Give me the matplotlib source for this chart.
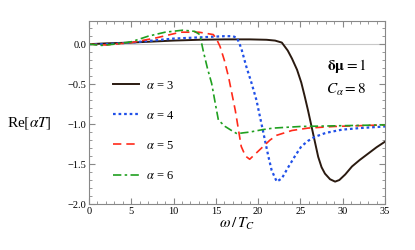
import matplotlib
matplotlib.use("Agg")
import matplotlib.pyplot as plt
from matplotlib.ticker import MultipleLocator
import numpy as np

plt.rcParams['font.family'] = ['Liberation Serif', 'DejaVu Serif']
plt.rcParams['mathtext.fontset'] = 'stix'

# alpha = 3
x3 = [0, 2, 5, 8, 10, 13, 16, 19, 21, 22, 22.8, 23.5, 24, 24.6, 25.1, 25.5, 25.9, 26.5, 27.1, 27.5, 27.9, 28.5, 29.1, 29.6, 30.3, 31.1, 32, 33, 34, 35]
y3 = [0.0, 0.01, 0.02, 0.035, 0.045, 0.055, 0.06, 0.06, 0.055, 0.045, 0.02, -0.08, -0.18, -0.32, -0.48, -0.65, -0.83, -1.12, -1.41, -1.54, -1.62, -1.69, -1.72, -1.70, -1.63, -1.53, -1.45, -1.37, -1.29, -1.22]
# alpha = 4
x4 = [0, 2, 5, 8, 10, 12, 14, 16, 17, 17.5, 18, 18.6, 19.2, 19.8, 20.3, 20.8, 21.2, 21.6, 22.2, 22.8, 23.5, 24.3, 25.1, 25.9, 26.7, 28, 29.9, 32, 35]
y4 = [0.0, 0.0, 0.02, 0.05, 0.07, 0.08, 0.09, 0.1, 0.1, 0.08, -0.05, -0.28, -0.48, -0.7, -0.95, -1.2, -1.4, -1.58, -1.72, -1.68, -1.55, -1.41, -1.28, -1.21, -1.16, -1.11, -1.07, -1.05, -1.03]
# alpha = 5
x5 = [0, 2, 5, 8, 10.8, 13, 14.7, 15.1, 15.5, 16, 16.5, 17.3, 18, 18.5, 19, 19.8, 20.6, 21.4, 22.2, 24, 25.9, 29, 32, 35]
y5 = [0.0, -0.01, 0.02, 0.08, 0.15, 0.15, 0.12, 0.06, -0.03, -0.2, -0.41, -0.83, -1.28, -1.4, -1.44, -1.36, -1.28, -1.2, -1.14, -1.08, -1.05, -1.03, -1.02, -1.01]
# alpha = 6
x6 = [0, 1.5, 3, 5, 7, 9, 11.1, 12.5, 13.1, 13.5, 14, 14.5, 15, 15.3, 16.1, 17, 17.5, 18.2, 19, 20.5, 21.8, 25, 30, 35]
y6 = [0.0, -0.015, 0.0, 0.03, 0.1, 0.15, 0.175, 0.16, 0.12, -0.08, -0.3, -0.49, -0.78, -0.95, -1.03, -1.09, -1.12, -1.11, -1.1, -1.07, -1.05, -1.03, -1.02, -1.01]

fig = plt.figure(figsize=(4.15, 2.5), dpi=100)
ax = fig.add_axes([89/415, 46/250, 296/415, 183/250])

ax.axhline(0, color='#c8c8c8', lw=0.8, zorder=1)
ax.plot(x3, y3, color='#2a1a10', lw=1.4, label=r'$\alpha$ = 3')
ax.plot(x4, y4, color='#2050e8', lw=1.6, linestyle=(0, (1.2, 1.3)), label=r'$\alpha$ = 4')
ax.plot(x5, y5, color='#ff2a1a', lw=1.2, linestyle=(0, (5, 3)), label=r'$\alpha$ = 5')
ax.plot(x6, y6, color='#20a020', lw=1.2, linestyle=(0, (5, 2, 1.5, 2)), label=r'$\alpha$ = 6')

ax.set_xlim(0, 35)
ax.set_ylim(-2.0, 0.29)
ax.xaxis.set_major_locator(MultipleLocator(5))
ax.xaxis.set_minor_locator(MultipleLocator(1))
ax.yaxis.set_major_locator(MultipleLocator(0.5))
ax.yaxis.set_minor_locator(MultipleLocator(0.1))
ax.tick_params(which='both', direction='in', top=True, right=True, labelsize=7.5, color='#888888', pad=2)
ax.tick_params(which='major', length=4)
ax.tick_params(which='minor', length=2)
for s in ax.spines.values():
    s.set_color('#888888')
    s.set_linewidth(0.8)

ax.set_xlabel(r'$\omega\,/\,T_C$', fontsize=11, labelpad=0)
ax.set_ylabel(r'Re$[\alpha T]$', fontsize=11, rotation=0, labelpad=2, va='center')
ax.yaxis.set_label_coords(-0.2, 0.44)

ax.legend(loc='center left', bbox_to_anchor=(0.05, 0.40), frameon=False, fontsize=9,
          handlelength=2.1, handletextpad=0.6, labelspacing=1.45, borderpad=0.2)

ax.text(0.87, 0.73, r'$\mathbf{\delta\mu}$$=1$', transform=ax.transAxes, fontsize=11, ha='center')
ax.text(0.87, 0.60, r'$C_\alpha = 8$', transform=ax.transAxes, fontsize=11, ha='center')

fig.savefig('out.png', dpi=100)
